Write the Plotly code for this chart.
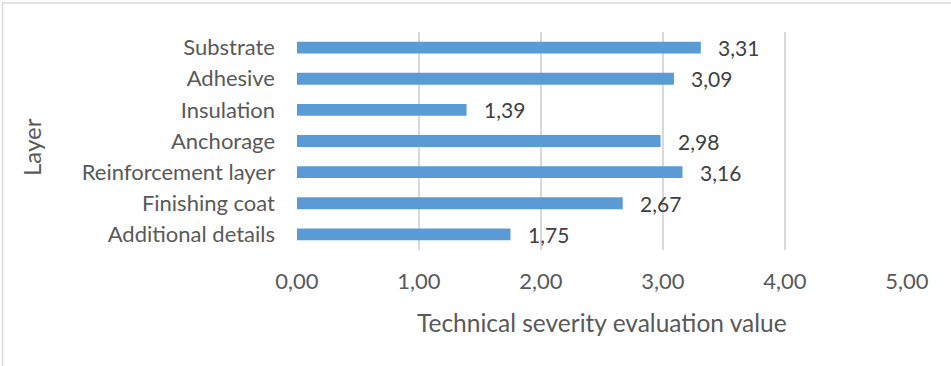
import plotly.graph_objects as go

# Layers listed bottom-to-top as drawn on the category axis
layers = ["Additional details", "Finishing coat", "Reinforcement layer",
          "Anchorage", "Insulation", "Adhesive", "Substrate"]
severity = [1.75, 2.67, 3.16, 2.98, 1.39, 3.09, 3.31]
x_ticks = [0, 1, 2, 3, 4, 5]

BAR = "#5B9BD5"
GRID = "#D9D9D9"
FONT = "Lato, 'Open Sans', sans-serif"

W, H = 951, 366
L, R, T, B = 297, 44, 32, 116
pw, ph = W - L - R, H - T - B

fig = go.Figure(go.Bar(
    x=severity, y=layers, orientation="h",
    marker=dict(color=BAR, line=dict(width=0)),
    hoverinfo="skip",
))

# value labels to the right of each bar
for v, cat in zip(severity, layers):
    fig.add_annotation(
        x=v, y=cat, xref="x", yref="y",
        text=f"{v:.2f}".replace(".", ","),
        showarrow=False, xanchor="left", yanchor="middle", xshift=15,
        font=dict(family=FONT, size=21, color="#404040"),
    )

# axis titles
fig.add_annotation(
    x=(31 - L) / pw, y=(H - B - 147) / ph,
    xref="paper", yref="paper", xanchor="center", yanchor="middle",
    text="Layer", textangle=-90,
    showarrow=False, font=dict(family=FONT, size=24, color="#595959"),
)
fig.add_annotation(
    x=(602 - L) / pw, y=(H - B - 322) / ph,
    xref="paper", yref="paper", xanchor="center", yanchor="middle",
    text="Technical severity evaluation value",
    showarrow=False, font=dict(family=FONT, size=24.5, color="#595959"),
)

# chart frame
fig.add_shape(
    type="rect", xref="paper", yref="paper",
    x0=(2.5 - L) / pw, x1=(960 - L) / pw,
    y0=(H - B - 380) / ph, y1=(H - B - 3) / ph,
    line=dict(color=GRID, width=1.5), fillcolor="rgba(0,0,0,0)", layer="below",
)

fig.update_layout(
    width=W, height=H,
    margin=dict(l=L, r=R, t=T, b=B, pad=0),
    paper_bgcolor="white", plot_bgcolor="white",
    separators=", ",
    bargap=0.62,
    showlegend=False,
    font=dict(family=FONT, size=21, color="#595959"),
    xaxis=dict(
        range=[0, 5], tickvals=x_ticks, tickformat=".2f",
        showgrid=True, gridcolor=GRID, gridwidth=1.5,
        zeroline=False, showline=False, ticks="",
        ticklabelstandoff=16,
        tickfont=dict(family=FONT, size=22, color="#595959"),
        fixedrange=True,
    ),
    yaxis=dict(
        showgrid=False, zeroline=False, showline=False, ticks="",
        ticklabelstandoff=21,
        tickfont=dict(family=FONT, size=22, color="#595959"),
        fixedrange=True,
    ),
)

fig.write_html("out.html")
